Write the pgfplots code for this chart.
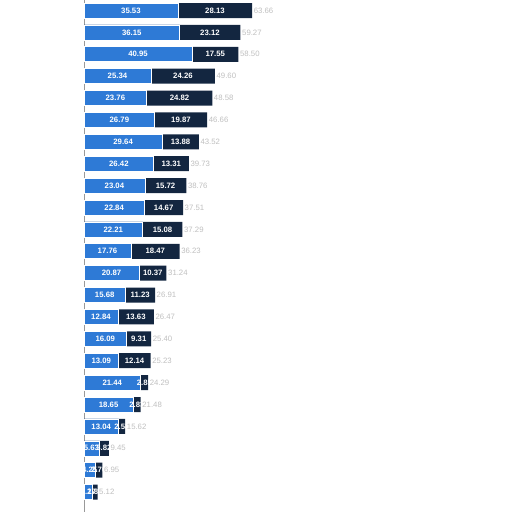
\documentclass[border=0pt]{standalone}
\usepackage{fontspec}
\setmainfont{Liberation Sans}
\usepackage{pgfplots}
\usepackage{pgfplotstable}
\pgfplotsset{compat=1.18}
\definecolor{barblue}{HTML}{2E7AD6}
\definecolor{barnavy}{HTML}{132640}

\pgfplotstableread{
y  a      b      t
1  35.53  28.13  63.66
2  36.15  23.12  59.27
3  40.95  17.55  58.50
4  25.34  24.26  49.60
5  23.76  24.82  48.58
6  26.79  19.87  46.66
7  29.64  13.88  43.52
8  26.42  13.31  39.73
9  23.04  15.72  38.76
10 22.84  14.67  37.51
11 22.21  15.08  37.29
12 17.76  18.47  36.23
13 20.87  10.37  31.24
14 15.68  11.23  26.91
15 12.84  13.63  26.47
16 16.09  9.31   25.40
17 13.09  12.14  25.23
18 21.44  2.85   24.29
19 18.65  2.83   21.48
20 13.04  2.58   15.62
21 5.63   3.82   9.45
22 4.25   2.70   6.95
23 3.27   1.85   5.12
}\rows

\begin{document}
\begin{tikzpicture}
\begin{axis}[
  scale only axis, width=512bp, height=512bp,
  xmin=-31.82, xmax=162.12,
  ymin=0.52, ymax=23.91, y dir=reverse,
  axis x line=none, axis y line=center,
  axis line style={-, draw=black!40, line width=0.8bp},
  ytick=\empty,
  xtick={20}, xticklabels={}, major tick length=0pt,
  xmajorgrids, grid style={black!10, line width=0.6bp},
  /pgf/number format/assume math mode=true,
  /pgf/number format/fixed, /pgf/number format/fixed zerofill,
  /pgf/number format/precision=2,
]
% dark segment drawn as full length, blue segment over it
\addplot[xbar, bar width=15bp, fill=barnavy, draw=none]
  table[x expr=\thisrow{a}+\thisrow{b}, y=y] {\rows};
\addplot[xbar, bar width=15bp, fill=barblue, draw=white, line width=0.6bp]
  table[x=a, y=y] {\rows};
% segment labels
\addplot[draw=none, mark=none, nodes near coords, point meta=explicit,
  every node near coord/.style={anchor=center, text=white,
    font=\fontsize{7.8}{9}\selectfont\bfseries, inner sep=0pt}]
  table[x expr=\thisrow{a}/2, y=y, meta=a] {\rows};
\addplot[draw=none, mark=none, nodes near coords, point meta=explicit,
  every node near coord/.style={anchor=center, text=white,
    font=\fontsize{7.8}{9}\selectfont\bfseries, inner sep=0pt}]
  table[x expr=\thisrow{a}+\thisrow{b}/2, y=y, meta=b] {\rows};
% totals
\addplot[draw=none, mark=none, nodes near coords, point meta=explicit,
  every node near coord/.style={anchor=west, text=black!25,
    font=\fontsize{7.8}{9}\selectfont, inner sep=1.5bp}]
  table[x=t, y=y, meta=t] {\rows};
\end{axis}
\pgfresetboundingbox
\path[use as bounding box] (current axis.south west) rectangle (current axis.north east);
\end{tikzpicture}
\end{document}
